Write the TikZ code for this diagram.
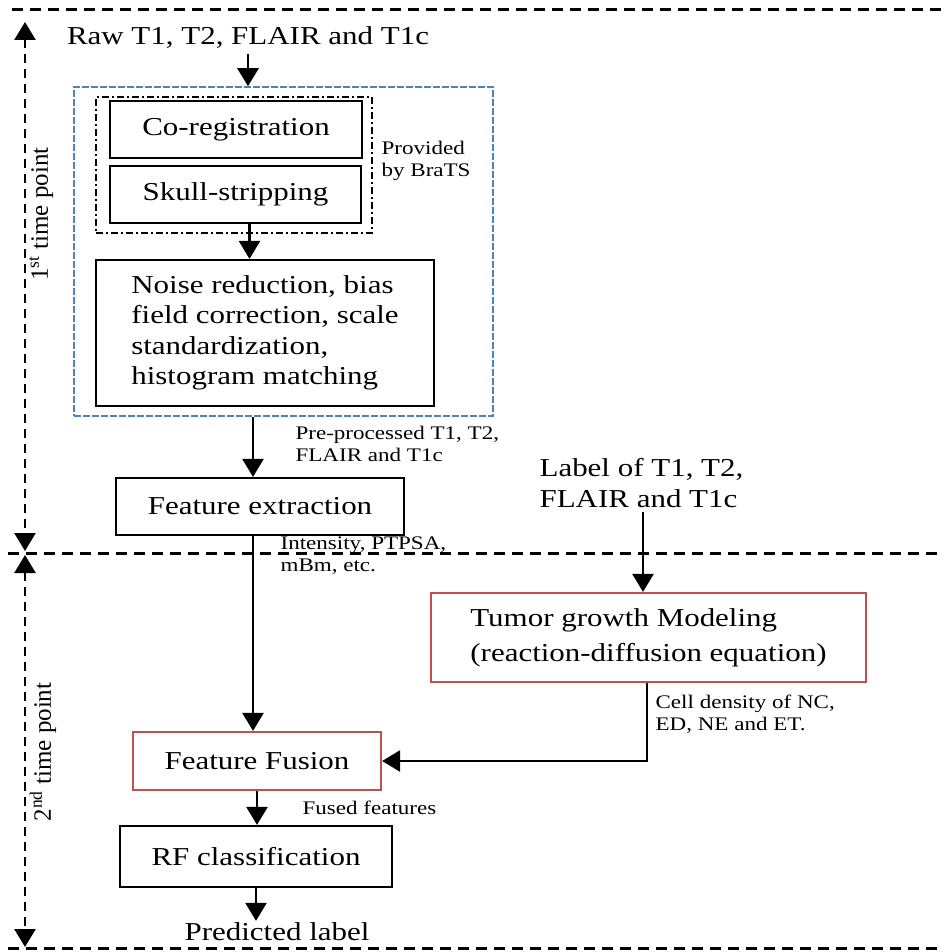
\documentclass[tikz,border=0pt]{standalone}
\usepackage{fontspec}
\setmainfont{Liberation Serif}[FakeStretch=1.2]
\newfontfamily\sidefont{Liberation Serif}
\usepackage{xcolor}
\usepackage{tikz}
\usetikzlibrary{positioning, shapes, arrows.meta}
\definecolor{bratsblue}{RGB}{79,129,189}
\definecolor{bratsred}{RGB}{192,80,77}

\begin{document}
\begin{tikzpicture}[x=1pt, y=-1pt, line width=2.5pt, >={Triangle[length=18pt, width=21pt]},
  big/.style={font=\fontsize{25.8}{30.5}\selectfont},
  small/.style={font=\fontsize{19.2}{22}\selectfont},
  stepbox/.style={draw, rectangle, line width=2.2pt, inner sep=0pt, big},
  side/.style={rotate=90, font=\sidefont\fontsize{25}{30}\selectfont}]
  \useasboundingbox (0,0) rectangle (943,952);

  % time point separators
  \coordinate (topL) at (12,10);
  \coordinate (topR) at (943,10);
  \coordinate (midL) at (8,553);
  \coordinate (midR) at (943,553);
  \coordinate (botL) at (8,948);
  \coordinate (botR) at (943,948);
  \coordinate (up1) at (25,22);
  \coordinate (down1) at (25,551);
  \coordinate (up2) at (25,555);
  \coordinate (down2) at (25,947);
  \draw [line width=3pt, dash pattern=on 11pt off 7pt] (topL) -- (topR);
  \draw [line width=3pt, dash pattern=on 11pt off 7pt] (midL) -- (midR);
  \draw [line width=3pt, dash pattern=on 11pt off 7pt] (botL) -- (botR);
  \draw [<->, dash pattern=on 9pt off 6pt] (up1) -- (down1);
  \draw [<->, dash pattern=on 9pt off 6pt] (up2) -- (down2);
  \node (first) [side] at (41,214) {1\textsuperscript{st} time point};
  \node (second) [side] at (43,752) {2\textsuperscript{nd} time point};

  % first time point
  \node (raw) [big] at (248,38) {Raw T1, T2, FLAIR and T1c};
  \node (prep) [draw=bratsblue, line width=1.5pt, dash pattern=on 7pt off 2pt, minimum width=419pt, minimum height=329pt] at (283.5,251.5) {};
  \node (brats) [draw, line width=2pt, dash pattern=on 7pt off 3pt on 2pt off 3pt, minimum width=276pt, minimum height=136pt] at (234,165) {};
  \node (coreg) [stepbox, minimum width=252pt, minimum height=57pt] at (236,129.5) {Co-registration};
  \node (skull) [stepbox, minimum width=251pt, minimum height=57pt] at (235.5,194.5) {Skull-stripping};
  \node (provided) [small, align=left, anchor=west] at (377,161) {Provided\\by BraTS};
  \node (noise) [stepbox, align=left, minimum width=338pt, minimum height=146pt] at (265,333) {Noise reduction, bias\\field correction, scale\\standardization,\\histogram matching};
  \node (fe) [stepbox, minimum width=288pt, minimum height=57pt] at (260,506.5) {Feature extraction};
  \node (preproc) [small, align=left, anchor=west] at (291,444) {Pre-processed T1, T2,\\FLAIR and T1c};
  \node (intensity) [small, align=left, anchor=west] at (276,556) {Intensity, PTPSA,\\mBm, etc.};
  \node (labels) [align=left, anchor=west, font=\fontsize{25.8}{31}\selectfont] at (535,483) {Label of T1, T2,\\FLAIR and T1c};

  % second time point
  \node (tumor) [stepbox, draw=bratsred, align=left, minimum width=435pt, minimum height=89pt, font=\fontsize{25.8}{35}\selectfont] at (648.5,637.5) {Tumor growth Modeling\\(reaction-diffusion equation)};
  \node (cell) [small, align=left, anchor=west] at (651,714) {Cell density of NC,\\ED, NE and ET.};
  \node (fusion) [stepbox, draw=bratsred, minimum width=248pt, minimum height=58pt] at (257,761) {Feature Fusion};
  \node (fused) [small, anchor=west] at (298,808) {Fused features};
  \node (rf) [stepbox, minimum width=272pt, minimum height=61pt] at (256,856.5) {RF classification};
  \node (pred) [big, inner sep=0pt, anchor=base] at (277,940) {Predicted label};

  \draw [->] (raw) -- (raw |- prep.north);
  \draw [->] ([xshift=14pt]skull.south) -- ([xshift=14pt]skull.south |- noise.north);
  \draw [->] ([xshift=-7pt]fe.north |- prep.south) -- ([xshift=-7pt]fe.north);
  \draw [->] ([xshift=-7pt]fe.south) -- ([xshift=-7pt]fe.south |- fusion.north);
  \draw [->] ([xshift=-5.5pt]tumor.north |- labels.south) -- ([xshift=-5.5pt]tumor.north);
  \draw [->] ([xshift=-1.5pt]tumor.south) |- (fusion.east);
  \draw [->] (fusion.south) -- (fusion.south |- rf.north);
  \draw [->] (rf.south) -- (rf.south |- pred.north);
\end{tikzpicture}
\end{document}
